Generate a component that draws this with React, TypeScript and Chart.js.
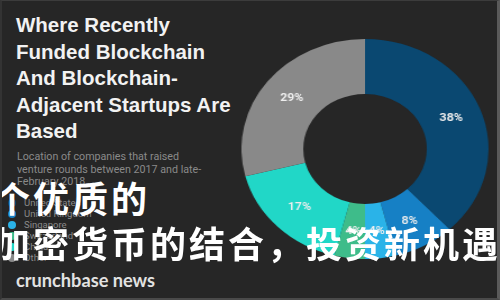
import React, { useEffect, useRef } from "react";
import { Chart, registerables } from "chart.js";

Chart.register(...registerables);

const regions = ["United States", "United Kingdom", "Singapore", "Switzerland", "China", "Other"];
const shares = [38, 8, 4, 4, 17, 29];
const sliceColors = ["#0a4871", "#1680c5", "#2ab3e8", "#3ebc8a", "#21d7c7", "#898989"];
const titleLines = ["Where Recently", "Funded Blockchain", "And Blockchain-", "Adjacent Startups Are", "Based"];
const subtitleLines = [
  "Location of companies that raised",
  "venture rounds between 2017 and late-",
  "February 2018.",
];
const overlayLines = ["个优质的", "加密货币的结合，投资新机遇"];
const brand = "crunchbase news";

const sliceLabels = {
  id: "sliceLabels",
  afterDatasetsDraw(chart: any) {
    const ctx = chart.ctx;
    const meta = chart.getDatasetMeta(0);
    ctx.save();
    ctx.textAlign = "center";
    ctx.textBaseline = "middle";
    meta.data.forEach((arc: any, i: number) => {
      const p = arc.tooltipPosition(false);
      ctx.font = (shares[i] >= 20 ? "bold " : "600 ") + "11px Roboto";
      ctx.fillStyle = "#eeeeee";
      ctx.fillText(shares[i] + "%", p.x, p.y);
    });
    ctx.restore();
  },
};

export default function App() {
  const ref = useRef<HTMLCanvasElement | null>(null);

  useEffect(() => {
    document.body.style.margin = "0";
    if (!ref.current) return;
    const chart = new Chart(ref.current, {
      type: "doughnut",
      data: {
        labels: regions,
        datasets: [
          {
            data: shares,
            backgroundColor: sliceColors,
            borderWidth: 0,
          },
        ],
      },
      options: {
        responsive: false,
        animation: false,
        cutout: "50%",
        layout: { padding: 0 },
        plugins: {
          legend: { display: false },
          tooltip: { enabled: false },
        },
      },
      plugins: [sliceLabels],
    } as any);
    return () => chart.destroy();
  }, []);

  return (
    <div
      style={{
        position: "fixed",
        left: 0,
        top: 0,
        width: 500,
        height: 300,
        background: "#262626",
        overflow: "hidden",
        boxSizing: "border-box",
        borderTop: "1px solid #3c3c3c",
        borderLeft: "2px solid #333333",
        borderRight: "3px solid #5a5a5a",
        borderBottom: "2px solid #4a4a4a",
        fontFamily: "Roboto, sans-serif",
      }}
    >
      <div
        style={{
          position: "absolute",
          left: 253,
          top: 38,
          width: 220,
          height: 220,
          transform: "scaleX(1.123)",
          transformOrigin: "center center",
        }}
      >
        <canvas ref={ref} width={220} height={220} />
      </div>

      <div
        style={{
          position: "absolute",
          left: 14,
          top: 11,
          color: "#f2f2f2",
          fontFamily: "'Liberation Sans', Arial, sans-serif",
          fontWeight: 700,
          fontSize: 20.5,
          lineHeight: "26.5px",
          whiteSpace: "nowrap",
        }}
      >
        {titleLines.map((t) => (
          <div key={t}>{t}</div>
        ))}
      </div>

      <div
        style={{
          position: "absolute",
          left: 15,
          top: 150,
          color: "#8a8a8a",
          fontSize: 10.7,
          lineHeight: "12.5px",
          whiteSpace: "nowrap",
        }}
      >
        {subtitleLines.map((t) => (
          <div key={t}>{t}</div>
        ))}
      </div>

      <div style={{ position: "absolute", left: 6, top: 196 }}>
        {regions.map((r, i) => (
          <div
            key={r}
            style={{ display: "flex", alignItems: "center", height: 11, color: "#8a8a8a", fontSize: 9.5 }}
          >
            <span
              style={{
                display: "inline-block",
                width: 8,
                height: 8,
                borderRadius: 4,
                background: sliceColors[i],
                marginRight: 8,
              }}
            />
            <span>{r}</span>
          </div>
        ))}
      </div>

      <div
        style={{
          position: "absolute",
          left: 14,
          top: 269,
          color: "#e2e2e2",
          fontFamily: "Lato, sans-serif",
          fontWeight: 700,
          fontSize: 18.2,
          lineHeight: "20px",
          whiteSpace: "nowrap",
        }}
      >
        {brand}
      </div>

      {overlayLines.map((t, i) => (
        <div
          key={t}
          style={{
            position: "absolute",
            left: -8,
            top: i === 0 ? 178 : 223,
            color: "#ffffff",
            fontFamily: "'Noto Sans CJK SC', sans-serif",
            fontWeight: 700,
            fontSize: 36,
            letterSpacing: 3,
            lineHeight: "36px",
            whiteSpace: "nowrap",
          }}
        >
          {t}
        </div>
      ))}
    </div>
  );
}
